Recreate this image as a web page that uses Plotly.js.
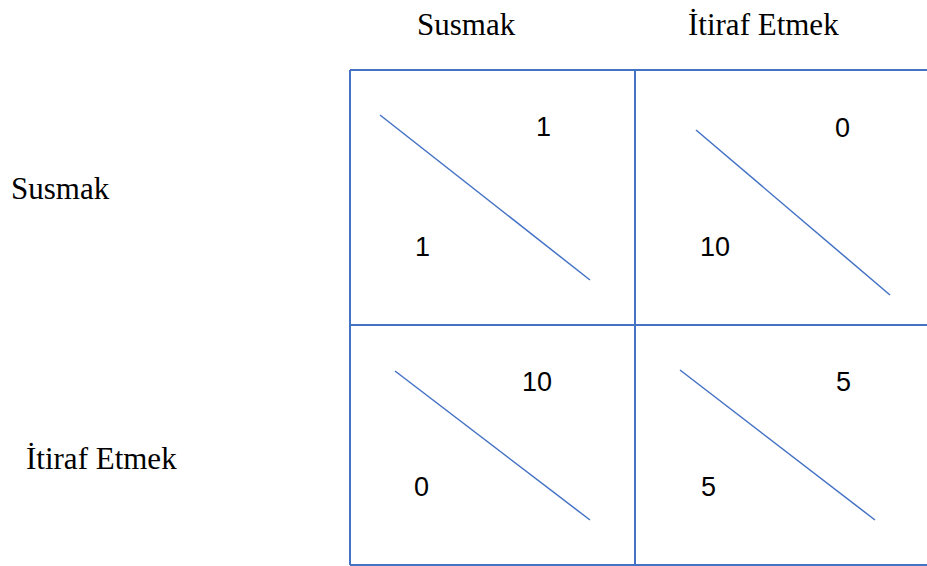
<!DOCTYPE html>
<html>
<head>
<meta charset="utf-8">
<script src="https://cdn.plot.ly/plotly-3.0.1.min.js"></script>
<style>
  html, body { margin: 0; padding: 0; background: #fff; }
  #chart { width: 927px; height: 566px; }
</style>
</head>
<body>
<div id="chart"></div>
<script>
// strategies of the two players (prisoner's dilemma)
const colStrategies = ['Susmak', 'İtiraf Etmek'];
const rowStrategies = ['Susmak', 'İtiraf Etmek'];

// payoff written below-left of the diagonal, and above-right of it
const lowerLeftPayoff = [[1, 10], [0, 5]];
const upperRightPayoff = [[1, 0], [10, 5]];

// grid geometry (pixel space)
const colEdges = [350, 635, 990];
const rowEdges = [70, 325, 565];
const colLabelPos = [[466, 24], [763, 24]];
const rowLabelPos = [[60, 188], [101, 458]];

// diagonal start/end offsets inside each cell [row][col]
const diagOffsets = [
    [[30, 45, 240, 210], [61, 60, 255, 225]],
    [[45, 46, 240, 195], [45, 45, 240, 195]]
];
// number offsets inside each cell: [llx, lly, urx, ury]
const numOffsets = [
    [[72, 177, 193, 57], [80, 177, 207, 58]],
    [[71, 162, 187, 57], [73, 162, 208, 57]]
];

const LINE = '#4472C4';

let traces = [], annotations = [], shapes = [];

// frame
shapes.push({ type: 'line', x0: colEdges[0], x1: 927, y0: rowEdges[0], y1: rowEdges[0] });
shapes.push({ type: 'line', x0: colEdges[0], x1: 927, y0: rowEdges[1], y1: rowEdges[1] });
shapes.push({ type: 'line', x0: colEdges[0], x1: 927, y0: rowEdges[2], y1: rowEdges[2] });
shapes.push({ type: 'line', x0: colEdges[0], x1: colEdges[0], y0: rowEdges[0], y1: rowEdges[2] });
shapes.push({ type: 'line', x0: colEdges[1], x1: colEdges[1], y0: rowEdges[0], y1: rowEdges[2] });
shapes = shapes.map(s => Object.assign({ xref: 'x', yref: 'y', line: { color: LINE, width: 2 } }, s));

for (let r = 0; r < rowStrategies.length; r++) {
    for (let c = 0; c < colStrategies.length; c++) {
        let cx = colEdges[c], cy = rowEdges[r];
        let d = diagOffsets[r][c];
        traces.push({
            type: 'scatter', mode: 'lines', hoverinfo: 'skip', showlegend: false,
            x: [cx + d[0], cx + d[2]],
            y: [cy + d[1], cy + d[3]],
            line: { color: LINE, width: 1.5 }
        });
        let n = numOffsets[r][c];
        annotations.push({ x: cx + n[0], y: cy + n[1], text: String(lowerLeftPayoff[r][c]) });
        annotations.push({ x: cx + n[2], y: cy + n[3], text: String(upperRightPayoff[r][c]) });
    }
}
annotations = annotations.map(a => Object.assign({
    xref: 'x', yref: 'y', showarrow: false, xanchor: 'center', yanchor: 'middle',
    font: { family: 'Liberation Sans, Arial', size: 27, color: '#000' }
}, a));

const serif = { family: 'Liberation Serif, Times New Roman', size: 31, color: '#000' };
colStrategies.forEach((s, i) => annotations.push({
    xref: 'x', yref: 'y', showarrow: false, xanchor: 'center', yanchor: 'middle',
    x: colLabelPos[i][0], y: colLabelPos[i][1], text: s, font: serif
}));
rowStrategies.forEach((s, i) => annotations.push({
    xref: 'x', yref: 'y', showarrow: false, xanchor: 'center', yanchor: 'middle',
    x: rowLabelPos[i][0], y: rowLabelPos[i][1], text: s, font: serif
}));

const layout = {
    width: 927, height: 566,
    margin: { l: 0, r: 0, t: 0, b: 0 },
    paper_bgcolor: '#fff', plot_bgcolor: '#fff',
    xaxis: { range: [0, 927], visible: false, fixedrange: true },
    yaxis: { range: [566, 0], visible: false, fixedrange: true },
    shapes: shapes,
    annotations: annotations,
    showlegend: false
};

Plotly.newPlot('chart', traces, layout, { displayModeBar: false, staticPlot: true });
</script>
</body>
</html>
